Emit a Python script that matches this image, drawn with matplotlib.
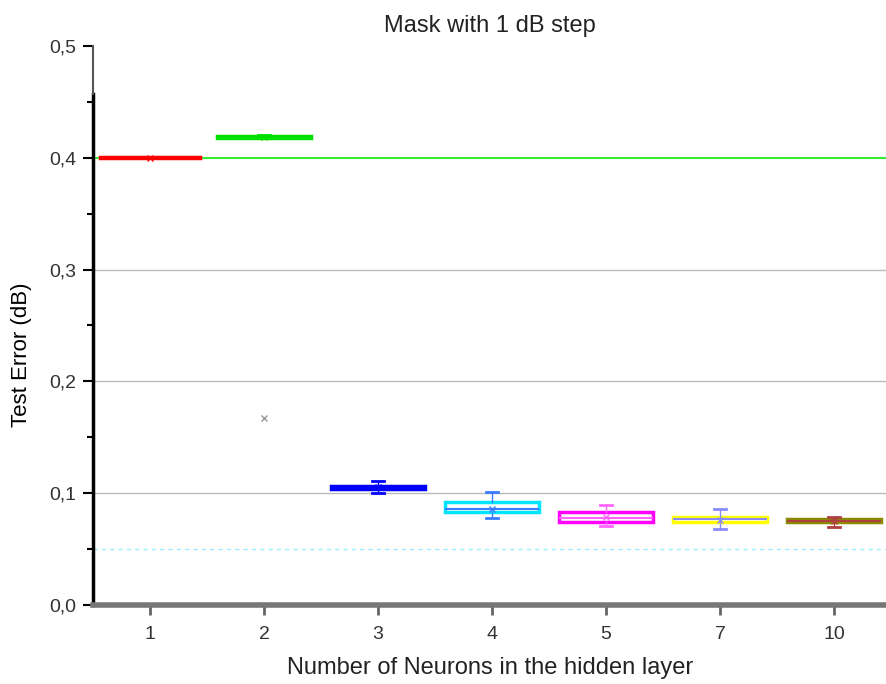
import matplotlib.pyplot as plt
from matplotlib.ticker import FuncFormatter, MultipleLocator

plt.rcParams['font.family'] = ['Liberation Sans', 'DejaVu Sans']

# box statistics (dB)
categories = ['1', '2', '3', '4', '5', '7', '10']
whislo = [0.400, 0.4185, 0.1000, 0.0780, 0.0710, 0.0680, 0.0700]
q1 = [0.3995, 0.4180, 0.1040, 0.0830, 0.0740, 0.0740, 0.0740]
med = [0.400, 0.4188, 0.1052, 0.0860, 0.0775, 0.0770, 0.0755]
q3 = [0.4005, 0.4195, 0.1065, 0.0920, 0.0830, 0.0790, 0.0770]
whishi = [0.4005, 0.4200, 0.1110, 0.1010, 0.0890, 0.0860, 0.0790]
means = [0.400, 0.4188, 0.1055, 0.0860, 0.0790, 0.0760, 0.0755]
outliers = [[], [0.167], [], [], [], [], []]
box_colors = ['#ff0000', '#00e000', '#0000ff', '#00e5ff', '#ff00ff', '#ffff00', '#8b8b00']
line_colors = ['#ff0000', '#00e000', '#0000ff', '#3a7bff', '#ff66ff', '#8a8aff', '#b04040']
box_widths = [0.88, 0.82, 0.82, 0.82, 0.82, 0.82, 0.82]

fig = plt.figure(figsize=(8.87, 6.84), dpi=100)
ax = fig.add_axes([93 / 887, 79 / 684, (887 - 93) / 887, 559 / 684])

stats = []
for i in range(len(categories)):
    stats.append(dict(whislo=whislo[i], q1=q1[i], med=med[i], q3=q3[i],
                      whishi=whishi[i], mean=means[i], fliers=outliers[i]))

for i, s in enumerate(stats):
    c = box_colors[i]
    lc = line_colors[i]
    ax.bxp([s], positions=[i], widths=box_widths[i], capwidths=0.1, showmeans=True,
           showfliers=True, patch_artist=True, zorder=3,
           boxprops=dict(facecolor=c if i < 3 else 'white', edgecolor=c, linewidth=2.5),
           medianprops=dict(color=lc, linewidth=1.5),
           whiskerprops=dict(color=lc, linewidth=1),
           capprops=dict(color=lc, linewidth=2),
           meanprops=dict(marker='x', markeredgecolor=lc, markersize=5),
           flierprops=dict(marker='x', markeredgecolor='#999999', markersize=4))
    if i == 5:
        # yellow box is filled
        ax.add_patch(plt.Rectangle((i - box_widths[i] / 2, q1[i]), box_widths[i],
                                   q3[i] - q1[i], facecolor=c, edgecolor='none', zorder=2.9))

# reference lines
ax.axhline(0.4, color='#33ee33', lw=1.5, zorder=2)
ax.axhline(0.05, color='#99eeff', lw=1, ls=(0, (3, 3)), zorder=2)
for y in [0.1, 0.2, 0.3]:
    ax.axhline(y, color='#bbbbbb', lw=1, zorder=1)

ax.set_xlim(-0.5, 6.465)
ax.set_ylim(0, 0.5)
ax.set_xticks(range(len(categories)))
ax.set_xticklabels(categories)
ax.yaxis.set_major_locator(MultipleLocator(0.1))
ax.yaxis.set_minor_locator(MultipleLocator(0.05))
ax.yaxis.set_major_formatter(FuncFormatter(lambda v, p: f'{v:.1f}'.replace('.', ',')))

ax.tick_params(axis='y', direction='out', length=7, width=1.5, labelsize=14,
               labelcolor='#333333', pad=5)
ax.tick_params(axis='y', which='minor', direction='out', length=4, width=1.5)
ax.tick_params(axis='x', direction='out', length=7, width=2, color='#666666',
               labelsize=14, labelcolor='#333333', pad=8)

for sp in ['top', 'right']:
    ax.spines[sp].set_visible(False)
ax.spines['bottom'].set_color('#777777')
ax.spines['bottom'].set_linewidth(4)
ax.spines['left'].set_color('black')
ax.spines['left'].set_linewidth(2.5)
ax.spines['left'].set_bounds(0, 0.457)
ax.plot([-0.5, -0.5], [0.457, 0.5], color='#555555', lw=1.5, clip_on=False, zorder=5)

ax.set_title('Mask with 1 dB step', fontsize=17, color='#222222', pad=10)
ax.set_ylabel('Test Error (dB)', fontsize=16, color='black')
ax.yaxis.set_label_coords(-0.077, 0.447)
ax.set_xlabel('Number of Neurons in the hidden layer', fontsize=17, color='#222222', labelpad=10)

fig.savefig('out.png', dpi=100)
